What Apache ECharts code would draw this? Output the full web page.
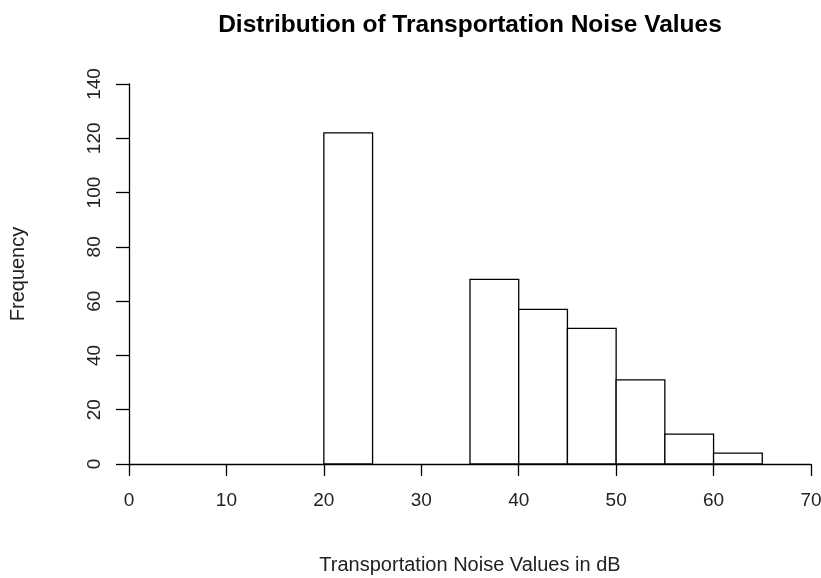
<!DOCTYPE html>
<html>
<head>
<meta charset="utf-8">
<script src="https://cdn.jsdelivr.net/npm/echarts@6/dist/echarts.min.js"></script>
<style>
  html, body { margin: 0; padding: 0; background: #fff; }
  #chart { width: 821px; height: 578px; }
</style>
</head>
<body>
<div id="chart"></div>
<script>
// histogram bins (dB) and counts
const binStarts = [20, 25, 30, 35, 40, 45, 50, 55, 60]
const binEnds = [25, 30, 35, 40, 45, 50, 55, 60, 65]
const counts = [122, 0, 0, 68, 57, 50, 31, 11, 4]
const xTicks = [0, 10, 20, 30, 40, 50, 60, 70]
const yTicks = [0, 20, 40, 60, 80, 100, 120, 140]

const font = 'Liberation Sans, Arial, sans-serif'
const ink = '#000'

const chart = echarts.init(document.getElementById('chart'))

const binData = binStarts.map((s, i) => [s, binEnds[i], counts[i]])

chart.setOption({
  animation: false,
  backgroundColor: '#fff',
  title: {
    text: 'Distribution of Transportation Noise Values',
    left: 465,
    top: 8,
    textAlign: 'center',
    textStyle: { fontFamily: font, fontSize: 24.5, fontWeight: 'bold', color: '#000' }
  },
  grid: { left: 129, right: 10, top: 84, bottom: 114, outerBoundsMode: 'none', containLabel: false },
  xAxis: {
    type: 'value',
    min: xTicks[0],
    max: xTicks[xTicks.length - 1],
    interval: 10,
    name: 'Transportation Noise Values in dB',
    nameLocation: 'middle',
    nameGap: 91,
    nameTextStyle: { fontFamily: font, fontSize: 20, color: '#222' },
    axisLine: { onZero: false, lineStyle: { color: ink, width: 1.3 } },
    axisTick: { length: 12, lineStyle: { color: ink, width: 1.3 } },
    axisLabel: { fontFamily: font, fontSize: 19, color: '#222', margin: 27 },
    splitLine: { show: false }
  },
  yAxis: {
    type: 'value',
    min: yTicks[0],
    max: yTicks[yTicks.length - 1],
    interval: 20,
    name: 'Frequency',
    nameLocation: 'middle',
    nameGap: 101,
    nameRotate: 90,
    nameTextStyle: { fontFamily: font, fontSize: 20, color: '#222' },
    axisLine: { show: true, lineStyle: { color: ink, width: 1.3 } },
    axisTick: { show: true, length: 13, lineStyle: { color: ink, width: 1.3 } },
    axisLabel: { fontFamily: font, fontSize: 19, color: '#222', rotate: 90, margin: 25 },
    splitLine: { show: false }
  },
  series: [{
    type: 'custom',
    data: binData,
    encode: { x: [0, 1], y: 2 },
    renderItem: (params, api) => {
      const p0 = api.coord([api.value(0), 0])
      const p1 = api.coord([api.value(1), api.value(2)])
      if (api.value(2) <= 0) return null
      return {
        type: 'rect',
        shape: { x: p0[0], y: p1[1], width: p1[0] - p0[0], height: p0[1] - p1[1] },
        style: { fill: '#fff', stroke: ink, lineWidth: 1.3 }
      }
    }
  }]
})
</script>
</body>
</html>
